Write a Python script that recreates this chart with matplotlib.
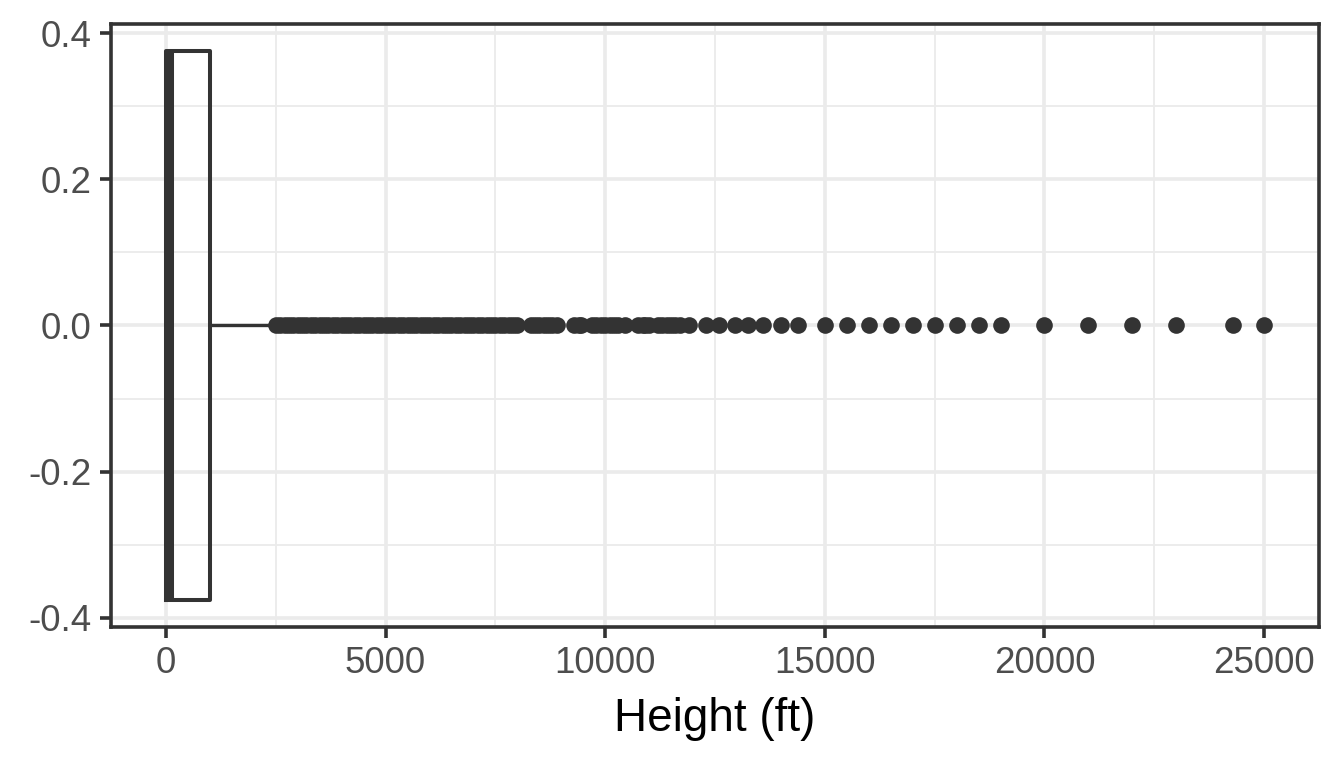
import matplotlib.pyplot as plt

# box statistics (ft)
q1 = 0
median = 60
q3 = 1000
whisker_low = 0
whisker_high = 2400

# outliers
outliers = [
    2500, 2600, 2700, 2800, 2900, 3000, 3100, 3200, 3300, 3400, 3500, 3600,
    3700, 3800, 3900, 4000, 4100, 4200, 4300, 4400, 4500, 4600, 4700, 4800,
    4900, 5000, 5100, 5200, 5300, 5400, 5500, 5600, 5700, 5800, 5900, 6000,
    6100, 6200, 6300, 6400, 6500, 6600, 6700, 6800, 6900, 7000, 7100, 7200,
    7300, 7400, 7500, 7600, 7700, 7800, 7900, 8000,
    8300, 8400, 8500, 8600, 8700, 8800, 8900, 9300, 9400, 9450, 9700, 9800,
    9900, 10000, 10100, 10200, 10300, 10450, 10750, 10850, 10900, 11000,
    11200, 11300, 11400, 11500, 11600, 11700,
    11900, 12300, 12600, 12950, 13250, 13600, 14000, 14400,
    15000, 15500, 16000, 16500, 17000, 17500, 18000, 18500, 19000,
    20000, 21000, 22000, 23000, 24300, 25000,
]

x_ticks = [0, 5000, 10000, 15000, 20000, 25000]
x_minor = [2500, 7500, 12500, 17500, 22500]
y_ticks = [-0.4, -0.2, 0.0, 0.2, 0.4]
y_minor = [-0.3, -0.1, 0.1, 0.3]

dark = '#333333'
grid = '#EBEBEB'
plt.rcParams['font.family'] = ['Liberation Sans', 'DejaVu Sans']

fig = plt.figure(figsize=(13.44, 7.68), dpi=100)
ax = fig.add_axes([0.0826, 0.1836, 0.8988, 0.7852])

stats = [dict(q1=q1, med=median, q3=q3, whislo=whisker_low,
              whishi=whisker_high, fliers=outliers)]
ax.bxp(stats, positions=[0], widths=0.75, vert=False, showcaps=False,
       boxprops=dict(color=dark, linewidth=2.9),
       medianprops=dict(color=dark, linewidth=6.5, solid_capstyle='butt'),
       whiskerprops=dict(color=dark, linewidth=2.4),
       flierprops=dict(marker='o', markersize=12.0, markerfacecolor=dark,
                       markeredgecolor=dark, markeredgewidth=0))

ax.set_xlim(-1250, 26250)
ax.set_ylim(-0.4125, 0.4125)

ax.set_xticks(x_ticks)
ax.set_xticks(x_minor, minor=True)
ax.set_yticks(y_ticks)
ax.set_yticks(y_minor, minor=True)
ax.set_yticklabels(['-0.4', '-0.2', '0.0', '0.2', '0.4'])
ax.set_xticklabels([str(v) for v in x_ticks])

ax.grid(which='major', color=grid, linewidth=2.6)
ax.grid(which='minor', color=grid, linewidth=1.3)
ax.set_axisbelow(True)

ax.tick_params(which='major', length=8, width=2.6, color=dark,
               labelcolor='#4D4D4D', labelsize=26.5, pad=6)
ax.tick_params(which='minor', length=0)
for s in ax.spines.values():
    s.set_color(dark)
    s.set_linewidth(2.6)

ax.set_xlabel('Height (ft)', fontsize=33, color='black', labelpad=11)

fig.savefig('out.png', dpi=100)
